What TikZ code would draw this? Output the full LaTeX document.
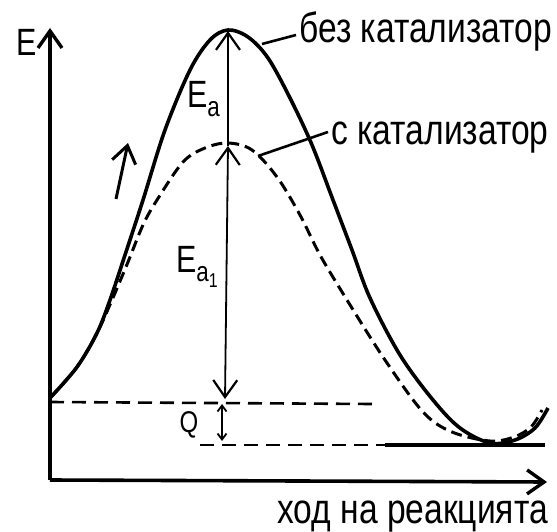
\documentclass[tikz,border=0pt]{standalone}
\usepackage{fontspec}
\setmainfont{Liberation Sans}[FakeStretch=0.8]
\usetikzlibrary{arrows.meta}
\tikzset{
  bigtip/.tip={Straight Barb[length=17pt,width=24pt,line width=2.2pt]},
  smalltip/.tip={Straight Barb[length=6pt,width=9pt,line width=1.8pt]},
  axistip/.tip={Straight Barb[length=17pt,width=24pt,line width=3.4pt]},
  hinttip/.tip={Straight Barb[length=17pt,width=24pt,line width=3pt]}
}
\begin{document}
\begin{tikzpicture}[x=1pt,y=-1pt,
  axis/.style={line width=3.6pt,-{axistip}},
  solidcurve/.style={line width=3.6pt,line join=round},
  dashcurve/.style={line width=3pt,dash pattern=on 11pt off 6pt},
  levelline/.style={line width=2.6pt,dash pattern=on 14pt off 8pt},
  dimline/.style={line width=1.8pt},
  lbl/.style={font=\fontsize{42}{44}\selectfont,inner sep=0pt,anchor=base west},
  sym/.style={font=\fontsize{38}{40}\selectfont,inner sep=0pt,anchor=base west}]
\useasboundingbox[fill=white] (0,0) rectangle (557,532);

% named points
\coordinate (O) at (50,480);
\coordinate (Ytop) at (50,28);
\coordinate (Xend) at (547,482);
\coordinate (peakA) at (228,31);
\coordinate (peakB) at (228,146);
\coordinate (R) at (225,399);
\coordinate (Qtop) at (222,404);
\coordinate (Qbot) at (222,441);
\coordinate (hintA) at (116,199);
\coordinate (hintB) at (128,143);

% axes
\draw[axis] (O) -- (Ytop);
\draw[axis] (O) -- (Xend);

% energy levels
\coordinate (reactL) at (50,402);
\coordinate (reactR) at (372,404);
\coordinate (prodL) at (200,445);
\coordinate (prodM) at (385,445);
\coordinate (prodR) at (545,445);
\draw[levelline] (reactL) -- (reactR);
\draw[levelline] (prodL) -- (prodM);
\draw[line width=3.4pt] (prodM) -- (prodR);

% curve without catalyst
\draw[solidcurve] plot[smooth,tension=0.55] coordinates {
 (50,398) (77,367) (97,333) (110,300) (125,255) (143,200) (165,130) (190,70)
 (210,40) (228,30) (248,37) (268,58) (290,98) (312,145) (333,200) (352,250)
 (370,298) (400,355) (433,400) (460,428) (490,443) (515,440) (535,428) (548,408)};

% curve with catalyst
\draw[dashcurve] plot[smooth,tension=0.55] coordinates {
 (50,398) (77,367) (97,333) (112,300) (128,262) (143,225) (157,200) (183,162)
 (205,148) (228,143) (252,150) (277,177) (300,215) (320,255) (347,300)
 (385,360) (423,412) (452,432) (490,441) (514,437) (531,427) (542,410)};

% activation energy arrows
\draw[dimline,-{bigtip}] (peakB) -- (peakA);
\draw[dimline,{bigtip}-{bigtip}] (R) -- (peakB);
\draw[dimline,{smalltip}-{smalltip}] (Qtop) -- (Qbot);
\draw[line width=3pt,-{hinttip}] (hintA) -- (hintB);

% labels
\node[sym] (E) at (16,56) {E};
\node[sym] (Ea) at (187,108) {E\raisebox{-9pt}{\fontsize{28}{28}\selectfont a}};
\node[sym] (Ea1) at (176,272) {E\raisebox{-9pt}{\fontsize{28}{28}\selectfont a\raisebox{-6pt}{\fontsize{20}{20}\selectfont 1}}};
\node[font=\fontsize{30}{32}\selectfont,inner sep=0pt] (Q) at (189,425) {Q};

\node[lbl] (tA) at (299,43) {без катализатор};
\node[lbl] (tB) at (331,145) {с катализатор};
\node[lbl] (tX) at (277,523) {ход на реакцията};

\coordinate (lA1) at (262,44);
\coordinate (lA2) at (296,35);
\coordinate (lB1) at (258,156);
\coordinate (lB2) at (328,132);
\draw[line width=2.6pt] (lA1) -- (lA2);
\draw[line width=2.6pt] (lB1) -- (lB2);
\end{tikzpicture}
\end{document}
